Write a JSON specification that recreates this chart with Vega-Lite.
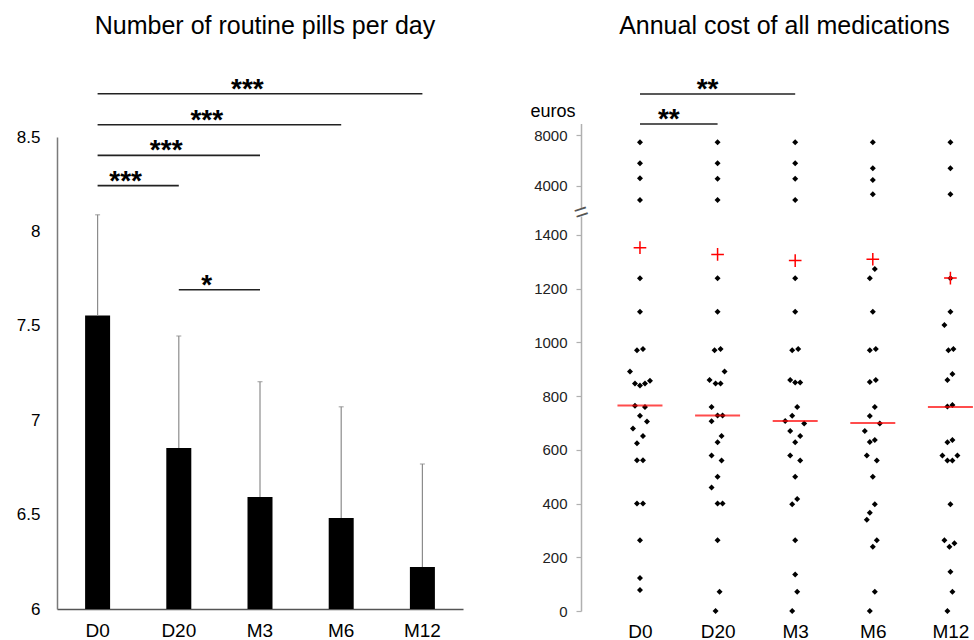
{
  "$schema": "https://vega.github.io/schema/vega-lite/v6.json",
  "padding": {"left": 16, "top": 13, "right": 0, "bottom": 0},
  "background": "white",
  "spacing": 66,
  "config": {
    "view": {"stroke": null},
    "font": "Liberation Sans",
    "axis": {"labelFont": "Liberation Sans", "titleFont": "Liberation Sans"}
  },
  "datasets": {
    "pills": [
      {"g": "D0", "mean": 7.555, "upper": 8.088},
      {"g": "D20", "mean": 6.853, "upper": 7.446},
      {"g": "M3", "mean": 6.593, "upper": 7.204},
      {"g": "M6", "mean": 6.482, "upper": 7.071},
      {"g": "M12", "mean": 6.222, "upper": 6.768}
    ],
    "pillSig": [
      {"from": "D0", "to": "M12", "y": 8.729, "label": "***", "span": 4},
      {"from": "D0", "to": "M6", "y": 8.565, "label": "***", "span": 3},
      {"from": "D0", "to": "M3", "y": 8.403, "label": "***", "span": 2},
      {"from": "D0", "to": "D20", "y": 8.242, "label": "***", "span": 1},
      {"from": "D20", "to": "M3", "y": 7.691, "label": "*", "span": 1}
    ],
    "costs": [
      {"g": "D0", "cost": 7424, "lane": 0}, {"g": "D0", "cost": 5767, "lane": 0}, {"g": "D0", "cost": 4584, "lane": 0}, {"g": "D0", "cost": 2872, "lane": 0},
      {"g": "D0", "cost": 1238, "lane": 0}, {"g": "D0", "cost": 1114, "lane": 0}, {"g": "D0", "cost": 970, "lane": -3}, {"g": "D0", "cost": 975, "lane": 3},
      {"g": "D0", "cost": 891, "lane": -10}, {"g": "D0", "cost": 847, "lane": -5}, {"g": "D0", "cost": 839, "lane": 0}, {"g": "D0", "cost": 847, "lane": 5},
      {"g": "D0", "cost": 857, "lane": 10}, {"g": "D0", "cost": 764, "lane": -5}, {"g": "D0", "cost": 759, "lane": 5}, {"g": "D0", "cost": 727, "lane": 0},
      {"g": "D0", "cost": 705, "lane": 7}, {"g": "D0", "cost": 679, "lane": -7}, {"g": "D0", "cost": 651, "lane": 3}, {"g": "D0", "cost": 624, "lane": -3},
      {"g": "D0", "cost": 561, "lane": -3}, {"g": "D0", "cost": 561, "lane": 3}, {"g": "D0", "cost": 400, "lane": -3}, {"g": "D0", "cost": 400, "lane": 3},
      {"g": "D0", "cost": 263, "lane": 0}, {"g": "D0", "cost": 123, "lane": 0}, {"g": "D0", "cost": 78, "lane": 0},

      {"g": "D20", "cost": 7424, "lane": 0}, {"g": "D20", "cost": 5767, "lane": 0}, {"g": "D20", "cost": 4550, "lane": 0}, {"g": "D20", "cost": 2872, "lane": 0},
      {"g": "D20", "cost": 1238, "lane": 0}, {"g": "D20", "cost": 1114, "lane": 0}, {"g": "D20", "cost": 970, "lane": -3}, {"g": "D20", "cost": 975, "lane": 3},
      {"g": "D20", "cost": 891, "lane": 7}, {"g": "D20", "cost": 860, "lane": -8}, {"g": "D20", "cost": 847, "lane": -2}, {"g": "D20", "cost": 847, "lane": 3},
      {"g": "D20", "cost": 759, "lane": -6}, {"g": "D20", "cost": 728, "lane": 0}, {"g": "D20", "cost": 728, "lane": 5}, {"g": "D20", "cost": 706, "lane": -6},
      {"g": "D20", "cost": 651, "lane": 4}, {"g": "D20", "cost": 628, "lane": 0}, {"g": "D20", "cost": 579, "lane": -6}, {"g": "D20", "cost": 560, "lane": 4},
      {"g": "D20", "cost": 500, "lane": 0}, {"g": "D20", "cost": 460, "lane": -6}, {"g": "D20", "cost": 400, "lane": 0}, {"g": "D20", "cost": 400, "lane": 5},
      {"g": "D20", "cost": 263, "lane": 0}, {"g": "D20", "cost": 72, "lane": 2}, {"g": "D20", "cost": 0, "lane": -2},

      {"g": "M3", "cost": 7424, "lane": 0}, {"g": "M3", "cost": 5767, "lane": 0}, {"g": "M3", "cost": 4550, "lane": 0}, {"g": "M3", "cost": 2872, "lane": 0},
      {"g": "M3", "cost": 1238, "lane": 0}, {"g": "M3", "cost": 1114, "lane": 0}, {"g": "M3", "cost": 970, "lane": -3}, {"g": "M3", "cost": 975, "lane": 3},
      {"g": "M3", "cost": 860, "lane": -5}, {"g": "M3", "cost": 850, "lane": 0}, {"g": "M3", "cost": 850, "lane": 5}, {"g": "M3", "cost": 759, "lane": 2},
      {"g": "M3", "cost": 727, "lane": -3}, {"g": "M3", "cost": 707, "lane": -10}, {"g": "M3", "cost": 698, "lane": 9}, {"g": "M3", "cost": 670, "lane": -5},
      {"g": "M3", "cost": 651, "lane": 5}, {"g": "M3", "cost": 628, "lane": 0}, {"g": "M3", "cost": 579, "lane": -5}, {"g": "M3", "cost": 560, "lane": 5},
      {"g": "M3", "cost": 500, "lane": 0}, {"g": "M3", "cost": 417, "lane": 2}, {"g": "M3", "cost": 397, "lane": -3}, {"g": "M3", "cost": 263, "lane": 0},
      {"g": "M3", "cost": 136, "lane": 0}, {"g": "M3", "cost": 72, "lane": 2}, {"g": "M3", "cost": 0, "lane": -3},

      {"g": "M6", "cost": 7424, "lane": 0}, {"g": "M6", "cost": 5373, "lane": 0}, {"g": "M6", "cost": 4450, "lane": 0}, {"g": "M6", "cost": 3321, "lane": 0},
      {"g": "M6", "cost": 1273, "lane": 2}, {"g": "M6", "cost": 1238, "lane": -3}, {"g": "M6", "cost": 1114, "lane": 0}, {"g": "M6", "cost": 970, "lane": -3},
      {"g": "M6", "cost": 975, "lane": 3}, {"g": "M6", "cost": 852, "lane": -3}, {"g": "M6", "cost": 860, "lane": 3}, {"g": "M6", "cost": 759, "lane": 2},
      {"g": "M6", "cost": 726, "lane": -3}, {"g": "M6", "cost": 698, "lane": 7}, {"g": "M6", "cost": 670, "lane": -8}, {"g": "M6", "cost": 629, "lane": -3},
      {"g": "M6", "cost": 636, "lane": 2}, {"g": "M6", "cost": 579, "lane": -6}, {"g": "M6", "cost": 560, "lane": 4}, {"g": "M6", "cost": 500, "lane": 0},
      {"g": "M6", "cost": 397, "lane": 2}, {"g": "M6", "cost": 366, "lane": -3}, {"g": "M6", "cost": 340, "lane": -6}, {"g": "M6", "cost": 263, "lane": 4},
      {"g": "M6", "cost": 239, "lane": 0}, {"g": "M6", "cost": 72, "lane": 2}, {"g": "M6", "cost": 0, "lane": -3},

      {"g": "M12", "cost": 7424, "lane": 0}, {"g": "M12", "cost": 5373, "lane": 0}, {"g": "M12", "cost": 3321, "lane": 0}, {"g": "M12", "cost": 1238, "lane": 0},
      {"g": "M12", "cost": 1114, "lane": 0}, {"g": "M12", "cost": 1064, "lane": -6}, {"g": "M12", "cost": 970, "lane": -2}, {"g": "M12", "cost": 975, "lane": 3},
      {"g": "M12", "cost": 882, "lane": 2}, {"g": "M12", "cost": 860, "lane": -3}, {"g": "M12", "cost": 767, "lane": 2}, {"g": "M12", "cost": 761, "lane": -3},
      {"g": "M12", "cost": 636, "lane": 2}, {"g": "M12", "cost": 628, "lane": -3}, {"g": "M12", "cost": 579, "lane": -8}, {"g": "M12", "cost": 579, "lane": 7},
      {"g": "M12", "cost": 560, "lane": -3}, {"g": "M12", "cost": 560, "lane": 2}, {"g": "M12", "cost": 397, "lane": 0}, {"g": "M12", "cost": 263, "lane": -6},
      {"g": "M12", "cost": 252, "lane": 4}, {"g": "M12", "cost": 239, "lane": -1}, {"g": "M12", "cost": 146, "lane": 0}, {"g": "M12", "cost": 72, "lane": 2},
      {"g": "M12", "cost": 0, "lane": -3}
    ],
    "summary": [
      {"g": "D0", "median": 765, "mean": 1352},
      {"g": "D20", "median": 728, "mean": 1327},
      {"g": "M3", "median": 707, "mean": 1304},
      {"g": "M6", "median": 700, "mean": 1309},
      {"g": "M12", "median": 759, "mean": 1239}
    ],
    "costSig": [
      {"from": "D0", "to": "M3", "y": 11235, "label": "**", "span": 2},
      {"from": "D0", "to": "D20", "y": 8868, "label": "**", "span": 1}
    ],
    "axisBreak": [{"brk": 1968}]
  },
  "hconcat": [
    {
      "width": 406,
      "height": 472,
      "title": {"text": "Number of routine pills per day", "font": "Liberation Sans", "fontSize": 25, "fontWeight": "normal", "color": "#000", "anchor": "middle", "frame": "group", "dx": 5, "offset": 37},
      "layer": [
        {
          "data": {"name": "pills"},
          "mark": {"type": "bar", "color": "#000", "width": 25},
          "encoding": {
            "x": {"field": "g", "type": "nominal", "title": null,
              "scale": {"type": "band", "domain": ["D0", "D20", "M3", "M6", "M12"], "paddingInner": 0.69, "paddingOuter": 0.345},
              "axis": {"title": null, "ticks": false, "tickSize": 0, "labelPadding": 12, "labelFontSize": 19, "labelColor": "#000", "labelAngle": 0, "domainColor": "#555", "domainWidth": 1.5}},
            "y": {"field": "mean", "type": "quantitative", "title": null,
              "scale": {"domain": [6, 8.5], "zero": false, "nice": false},
              "axis": {"title": null, "values": [6, 6.5, 7, 7.5, 8, 8.5], "format": "~g", "grid": false, "ticks": false, "tickSize": 0, "labelPadding": 17, "labelFontSize": 17, "labelColor": "#000", "domainColor": "#7a7a7a", "domainWidth": 1.5}},
            "y2": {"datum": 6}
          }
        },
        {
          "data": {"name": "pills"},
          "mark": {"type": "rule", "color": "#8c8c8c", "strokeWidth": 1.2},
          "encoding": {
            "x": {"field": "g", "type": "nominal", "title": null},
            "y": {"field": "mean", "type": "quantitative", "title": null},
            "y2": {"field": "upper"}
          }
        },
        {
          "data": {"name": "pills"},
          "mark": {"type": "tick", "orient": "horizontal", "color": "#8c8c8c", "size": 5, "thickness": 1.2},
          "encoding": {
            "x": {"field": "g", "type": "nominal", "title": null},
            "y": {"field": "upper", "type": "quantitative", "title": null}
          }
        },
        {
          "data": {"name": "pillSig"},
          "mark": {"type": "rule", "color": "#222", "strokeWidth": 1.7},
          "encoding": {
            "x": {"field": "from", "type": "nominal", "title": null, "bandPosition": 0.5},
            "x2": {"field": "to", "bandPosition": 0.5},
            "y": {"field": "y", "type": "quantitative", "title": null}
          }
        },
        {
          "data": {"name": "pillSig"},
          "mark": {"type": "text", "fontSize": 28, "fontWeight": "bold", "baseline": "alphabetic", "align": "center", "dy": 4, "color": "#000"},
          "encoding": {
            "x": {"field": "from", "type": "nominal", "title": null, "bandPosition": 0.5},
            "xOffset": {"field": "span", "type": "quantitative", "scale": {"domain": [0, 4], "range": [0, 162.4]}},
            "y": {"field": "y", "type": "quantitative", "title": null},
            "text": {"field": "label"}
          }
        }
      ]
    },
    {
      "width": 391,
      "height": 474,
      "title": {"text": "Annual cost of all medications", "font": "Liberation Sans", "fontSize": 25, "fontWeight": "normal", "color": "#000", "anchor": "middle", "frame": "group", "dx": 8, "offset": 37},
      "layer": [
        {
          "data": {"name": "costs"},
          "mark": {"type": "point", "shape": "diamond", "filled": true, "color": "#000", "size": 36, "opacity": 1},
          "encoding": {
            "x": {"field": "g", "type": "nominal", "title": null,
              "scale": {"type": "point", "domain": ["D0", "D20", "M3", "M6", "M12"], "padding": 0.519, "align": 0.732},
              "axis": {"title": null, "domain": false, "ticks": false, "tickSize": 0, "labelPadding": 11, "labelFontSize": 19, "labelColor": "#000", "labelAngle": 0}},
            "xOffset": {"field": "lane", "type": "quantitative", "scale": {"domain": [-10, 10], "range": [-10, 10]}},
            "y": {"field": "cost", "type": "quantitative", "title": null,
              "scale": {"domain": [0, 1400, 2000, 8900], "range": [474, 97.8, 74.05, -13.4], "zero": false, "nice": false},
              "axis": {"title": "euros", "titleAngle": 0, "titleAlign": "right", "titleBaseline": "alphabetic", "titleX": -6, "titleY": -21, "titleFontSize": 18, "titleFontWeight": "normal", "titleColor": "#000",
                "values": [0, 200, 400, 600, 800, 1000, 1200, 1400, 4000, 8000], "format": "d", "grid": false,
                "tickSize": 5, "tickColor": "#b0b0b0", "tickWidth": 1.2, "domainColor": "#b0b0b0", "domainWidth": 1.5, "domainDash": [395, 8, 1000],
                "labelPadding": 9, "labelFontSize": 15, "labelColor": "#222"}}
          }
        },
        {
          "data": {"name": "summary"},
          "mark": {"type": "tick", "orient": "horizontal", "color": "#ff0000", "size": 45, "thickness": 2},
          "encoding": {
            "x": {"field": "g", "type": "nominal", "title": null},
            "y": {"field": "median", "type": "quantitative", "title": null, "axis": null}
          }
        },
        {
          "data": {"name": "summary"},
          "mark": {"type": "point", "shape": "M-1,0L1,0M0,-1L0,1", "filled": false, "color": "#ff0000", "strokeWidth": 1.5, "size": 160, "opacity": 1},
          "encoding": {
            "x": {"field": "g", "type": "nominal", "title": null},
            "y": {"field": "mean", "type": "quantitative", "title": null, "axis": null}
          }
        },
        {
          "data": {"name": "costSig"},
          "mark": {"type": "rule", "color": "#222", "strokeWidth": 1.7},
          "encoding": {
            "x": {"field": "from", "type": "nominal", "title": null},
            "x2": {"field": "to"},
            "y": {"field": "y", "type": "quantitative", "title": null, "axis": null}
          }
        },
        {
          "data": {"name": "costSig"},
          "mark": {"type": "text", "fontSize": 28, "fontWeight": "bold", "baseline": "alphabetic", "align": "center", "dy": 4, "dx": -10, "color": "#000"},
          "encoding": {
            "x": {"field": "from", "type": "nominal", "title": null},
            "xOffset": {"field": "span", "type": "quantitative", "scale": {"domain": [0, 2], "range": [0, 77.6]}},
            "y": {"field": "y", "type": "quantitative", "title": null, "axis": null},
            "text": {"field": "label"}
          }
        },
        {
          "data": {"name": "axisBreak"},
          "mark": {"type": "point", "opacity": 0},
          "encoding": {
            "y": {"field": "brk", "type": "quantitative", "title": null,
              "axis": {"orient": "right", "offset": -391, "title": null, "values": [1968], "labelExpr": "'='", "ticks": false, "tickSize": 0, "domain": false, "grid": false,
                "labelPadding": 0, "labelAlign": "center", "labelBaseline": "middle", "labelAngle": -18, "labelFontSize": 24, "labelColor": "#555"}}
          }
        }
      ],
      "resolve": {"scale": {"xOffset": "independent"}, "axis": {"y": "independent"}}
    }
  ]
}
